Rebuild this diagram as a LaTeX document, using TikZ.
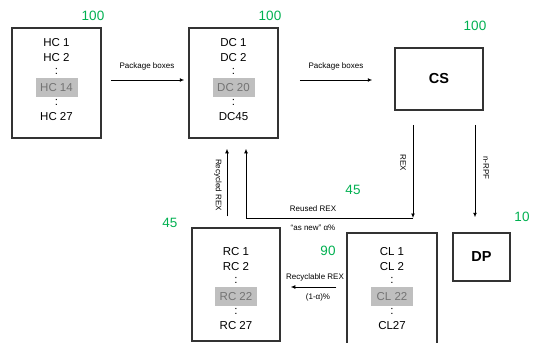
\documentclass[tikz,border=0pt]{standalone}
\usepackage{fontspec}
\setmainfont{Liberation Sans}
\usetikzlibrary{arrows.meta}
\definecolor{numgreen}{RGB}{0,176,80}
\definecolor{bandgrey}{RGB}{191,191,191}
\definecolor{bandtext}{RGB}{115,115,115}
\tikzset{
  box/.style={draw=black!80,line width=1.5pt,inner sep=0pt},
  listbox/.style={box,minimum width=89pt,minimum height=110pt},
  entry/.style={font=\fontsize{11.5}{13}\selectfont,inner sep=0pt},
  band/.style={entry,fill=bandgrey,text=bandtext,minimum width=42pt,minimum height=19pt},
  num/.style={text=numgreen,font=\fontsize{13.5}{15}\selectfont,inner sep=0pt},
  lbl/.style={font=\fontsize{8}{9}\selectfont,inner sep=0pt},
  arr/.style={-{Latex[length=4.5pt,width=4pt]},line width=0.9pt,black},
}
\begin{document}
\begin{tikzpicture}[x=1pt,y=-1pt]
  \useasboundingbox (0,0) rectangle (536,343);
  \clip (0,0) rectangle (536,343);

  % ---------- boxes ----------
  \node[listbox] (hc) at (56.5,83) {};
  \node[listbox] (dc) at (233.5,83) {};
  \node[box,minimum width=88pt,minimum height=62pt,font=\fontsize{14.5}{16}\selectfont\bfseries]
       (cs) at (439,79) {CS};
  \node[listbox,minimum width=88pt,minimum height=113pt] (rc) at (236,284.5) {};
  \node[listbox,minimum width=90pt,minimum height=120pt] (cl) at (392,293) {};
  \node[box,minimum width=57pt,minimum height=48pt,font=\fontsize{14.5}{16}\selectfont\bfseries]
       (dp) at (481.5,257) {DP};

  % ---------- lists inside the boxes ----------
  \foreach \nm/\cx/\ty/\la/\lb/\lc/\ld in {%
      hc/56.5/43/HC 1/HC 2/HC 14/HC 27,
      dc/233.5/43/DC 1/DC 2/DC 20/DC45,
      rc/236/252/RC 1/RC 2/RC 22/RC 27,
      cl/392/252/CL 1/CL 2/CL 22/CL27}
  {
    \node[entry] (\nm-a) at (\cx,\ty) {\la};
    \node[entry] (\nm-b) at (\cx,\ty+14.5) {\lb};
    \node[entry] (\nm-c) at (\cx,\ty+28.5) {:};
    \node[band]  (\nm-d) at (\cx,\ty+44.5) {\lc};
    \node[entry] (\nm-e) at (\cx,\ty+59) {:};
    \node[entry] (\nm-f) at (\cx,\ty+74) {\ld};
  }

  % ---------- green counts ----------
  \node[num] (n-hc) at (93,16) {100};
  \node[num] (n-dc) at (270,16) {100};
  \node[num] (n-cs) at (475,26) {100};
  \node[num] (n-reuse) at (353,190) {45};
  \node[num] (n-rc) at (170,223) {45};
  \node[num] (n-cl) at (328,251) {90};
  \node[num] (n-dp) at (522,217) {10};

  % ---------- flows ----------
  \coordinate (knee) at (413,218);

  \draw[arr,shorten <=9pt,shorten >=4pt] ([yshift=3pt]hc.east) -- ([yshift=3pt]dc.west);
  \draw[arr,shorten <=21pt,shorten >=22pt] ([yshift=3pt]dc.east) -- ([yshift=3pt]dc.east -| cs.west);
  \draw[arr,shorten <=14pt] ([xshift=-26pt]cs.south) -- (knee);
  \draw[arr,shorten >=10pt] (knee) -| ([xshift=12.5pt]dc.south);
  \draw[arr,shorten <=11pt,shorten >=10pt] ([xshift=-9pt]rc.north) -- ([xshift=-6.5pt]dc.south);
  \draw[arr,shorten <=14pt,shorten >=15pt] ([xshift=36pt]cs.south) -- ([xshift=36pt]cs.south |- dp.north);
  \draw[arr,shorten <=10pt,shorten >=10pt] ([yshift=-2.5pt]cl.west |- rc.east) -- ([yshift=-2.5pt]rc.east);

  % ---------- flow labels ----------
  \node[lbl] (l-pb1) at (147,66) {Package boxes};
  \node[lbl] (l-pb2) at (336,66) {Package boxes};
  \node[lbl,rotate=-90] (l-rex) at (403,163) {REX};
  \node[lbl,rotate=-90] (l-rpf) at (486,168) {n-RPF};
  \node[lbl,rotate=-90] (l-recy) at (218,185) {Recycled REX};
  \node[lbl] (l-reuse) at (313,209) {Reused REX};
  \node[lbl] (l-new) at (313,228) {“as new” α\%};
  \node[lbl] (l-recl) at (315,277) {Recyclable REX};
  \node[lbl] (l-frac) at (318,297) {(1-α)\%};

\end{tikzpicture}
\end{document}
